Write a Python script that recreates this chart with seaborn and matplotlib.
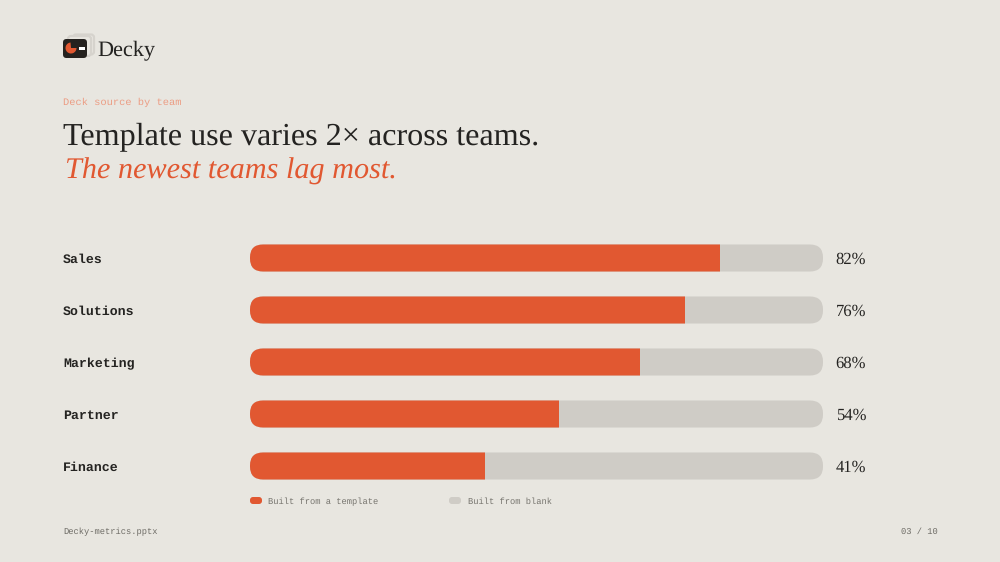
import matplotlib
matplotlib.use("Agg")
import matplotlib.pyplot as plt
import pandas as pd
import seaborn as sns
from matplotlib.patches import FancyBboxPatch, Wedge, Rectangle
from matplotlib.transforms import IdentityTransform

teams = ["Sales", "Solutions", "Marketing", "Partner", "Finance"]
template_pct = [82, 76, 68, 54, 41]
full_pct = [100, 100, 100, 100, 100]
legend_labels = ["Built from a template", "Built from blank"]

BG = "#E8E6E0"
ORANGE = "#E15831"
GREY = "#CFCCC6"
INK = "#242321"
SERIF = "Liberation Serif"
MONO = "Liberation Mono"

sns.set_theme(style="white")
plt.rcParams["text.hinting"] = "no_hinting"
fig = plt.figure(figsize=(10, 5.62), dpi=100, facecolor=BG)

# overlay in pixel coordinates for the slide furniture
px = fig.add_axes([0, 0, 1, 1], zorder=0)
px.set_xlim(0, 1000)
px.set_ylim(562, 0)
px.axis("off")

ax = fig.add_axes([250 / 1000, 1 - 492 / 562, 573 / 1000, 260 / 562], zorder=1)
ax.patch.set_alpha(0)

df = pd.DataFrame({"team": teams, "template": template_pct, "full": full_pct})
sns.barplot(data=df, x="full", y="team", color=GREY, saturation=1, width=0.52, linewidth=0, ax=ax)
sns.barplot(data=df, x="template", y="team", color=ORANGE, saturation=1, width=0.52, linewidth=0, ax=ax)
ax.set_xlim(0, 100)
ax.set_ylim(4.5, -0.5)
ax.axis("off")
fig.canvas.draw()

# round the bar ends by clipping each one to its track
n = len(teams)
tracks = ax.patches[:n]
for i in range(n):
    box = tracks[i].get_window_extent()
    clip = FancyBboxPatch((box.x0 + 13, box.y0 + 13), box.width - 26, box.height - 26,
                          boxstyle="round,pad=13,rounding_size=13",
                          transform=IdentityTransform())
    tracks[i].set_clip_path(clip)
    ax.patches[n + i].set_clip_path(clip)
    ax.text(102.2, i + 0.04, f"{template_pct[i]}%", family=SERIF, fontsize=12, color=INK,
            va="center", ha="left", clip_on=False)
    px.text(63, 259.5 + i * 52, teams[i], family=MONO, fontsize=9.5, fontweight="bold",
            color=INK, va="center", ha="left")

# logo
px.add_patch(FancyBboxPatch((73, 34.5), 21, 20, boxstyle="round,pad=0,rounding_size=3",
                            fc=BG, ec="#D6D3CD", lw=1.6))
px.add_patch(FancyBboxPatch((68, 36), 23, 20, boxstyle="round,pad=0,rounding_size=3",
                            fc=BG, ec="#D6D3CD", lw=1.6))
px.add_patch(FancyBboxPatch((63, 39), 24, 19, boxstyle="round,pad=0,rounding_size=3.5",
                            fc="#25221F", ec="none"))
px.add_patch(Wedge((71, 48), 5.5, 0, 265, fc=ORANGE, ec="none"))
px.add_patch(Rectangle((79, 47), 6, 3, fc="white", ec="none"))
px.text(97, 51, "Decky", family=SERIF, fontsize=16, color=INK, va="center", ha="left")

# headings
px.text(63, 102, "Deck source by team", family=MONO, fontsize=7.5, color="#EC9D84",
        va="center", ha="left")
px.text(63, 137, "Template use varies 2× across teams.", family=SERIF, fontsize=23.15,
        color=INK, va="center", ha="left")
px.text(65, 171, "The newest teams lag most.", family=SERIF, style="italic", fontsize=21.8,
        color=ORANGE, va="center", ha="left")

# legend
px.add_patch(FancyBboxPatch((250, 497), 12, 7, boxstyle="round,pad=0,rounding_size=3",
                            fc=ORANGE, ec="none"))
px.add_patch(FancyBboxPatch((449, 497), 12, 7, boxstyle="round,pad=0,rounding_size=3",
                            fc=GREY, ec="none"))
px.text(268.5, 501.5, legend_labels[0], family=MONO, fontsize=6.35, color="#77756F",
        va="center", ha="left")
px.text(468, 501.5, legend_labels[1], family=MONO, fontsize=6.35, color="#77756F",
        va="center", ha="left")

# footer
px.text(63, 532, "Decky-metrics.pptx", family=MONO, fontsize=6.35, color="#6E6C66",
        va="center", ha="left")
px.text(938, 532, "03 / 10", family=MONO, fontsize=6.35, color="#6E6C66",
        va="center", ha="right")

fig.savefig("out.png", dpi=100, facecolor=BG)
